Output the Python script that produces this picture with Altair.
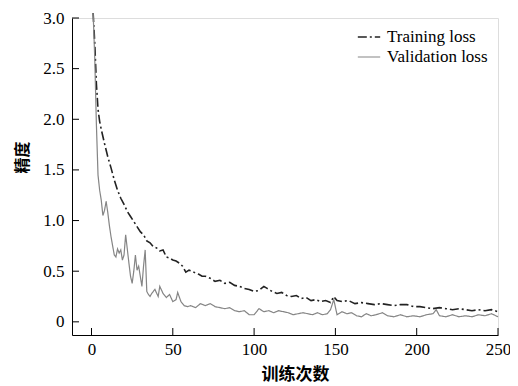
import altair as alt
import pandas as pd

# ---- data ----
train_epoch = [1, 2, 3, 4, 5, 6, 8, 10, 12, 14, 16, 18, 20, 22, 24, 26, 28, 30, 32, 34,
               36, 38, 40, 42, 44, 46, 48, 50, 52, 54, 56, 58, 60, 62, 64, 66, 68, 70,
               73, 76, 79, 82, 85, 88, 91, 94, 97, 100, 103, 106, 108, 111, 114, 117,
               120, 123, 126, 129, 132, 135, 138, 141, 144, 147, 149, 151, 154, 158,
               162, 166, 170, 174, 178, 182, 186, 190, 194, 198, 202, 206, 210, 214,
               218, 222, 226, 230, 234, 238, 242, 246, 250]
train_loss = [3.05, 2.75, 2.35, 2.10, 1.98, 1.90, 1.76, 1.63, 1.52, 1.40, 1.30, 1.22,
              1.16, 1.09, 1.04, 0.99, 0.94, 0.89, 0.86, 0.80, 0.78, 0.74, 0.73, 0.70,
              0.71, 0.64, 0.63, 0.61, 0.60, 0.58, 0.55, 0.49, 0.51, 0.50, 0.48, 0.47,
              0.45, 0.45, 0.43, 0.40, 0.41, 0.38, 0.39, 0.36, 0.35, 0.33, 0.32, 0.30,
              0.31, 0.35, 0.33, 0.30, 0.28, 0.29, 0.26, 0.25, 0.26, 0.23, 0.24, 0.21,
              0.22, 0.20, 0.21, 0.19, 0.25, 0.21, 0.20, 0.21, 0.18, 0.19, 0.18, 0.17,
              0.18, 0.17, 0.16, 0.17, 0.17, 0.15, 0.15, 0.14, 0.13, 0.14, 0.13, 0.12,
              0.13, 0.12, 0.11, 0.12, 0.11, 0.12, 0.10]

val_epoch = [1, 2, 3, 4, 5, 6, 7, 8, 9, 10, 11, 12, 13, 14, 15, 16, 17, 18, 19, 20,
             21, 22, 23, 24, 25, 26, 27, 28, 29, 30, 31, 32, 33, 34, 35, 36, 37, 39,
             41, 42, 44, 46, 48, 50, 52, 53, 55, 57, 59, 61, 64, 67, 70, 73, 76, 79,
             82, 85, 88, 91, 94, 97, 100, 103, 106, 109, 112, 115, 118, 121, 124, 127,
             130, 133, 136, 139, 142, 145, 147, 149, 151, 154, 157, 160, 163, 166,
             169, 172, 175, 179, 182, 186, 190, 194, 198, 202, 206, 210, 212, 214,
             218, 222, 226, 230, 234, 238, 242, 246, 250]
val_loss = [3.05, 2.60, 1.95, 1.45, 1.30, 1.20, 1.05, 1.10, 1.19, 1.08, 0.95, 0.84,
            0.75, 0.66, 0.64, 0.72, 0.68, 0.71, 0.61, 0.66, 0.86, 0.72, 0.58, 0.45,
            0.38, 0.50, 0.66, 0.51, 0.55, 0.45, 0.35, 0.55, 0.71, 0.30, 0.27, 0.25,
            0.28, 0.32, 0.25, 0.35, 0.28, 0.24, 0.27, 0.20, 0.22, 0.29, 0.20, 0.16,
            0.15, 0.16, 0.14, 0.18, 0.16, 0.18, 0.15, 0.14, 0.13, 0.14, 0.11, 0.10,
            0.11, 0.07, 0.07, 0.13, 0.10, 0.11, 0.09, 0.11, 0.10, 0.09, 0.07, 0.08,
            0.09, 0.08, 0.07, 0.09, 0.07, 0.08, 0.12, 0.22, 0.07, 0.10, 0.08, 0.09,
            0.06, 0.05, 0.08, 0.06, 0.07, 0.09, 0.06, 0.05, 0.07, 0.05, 0.06, 0.05,
            0.07, 0.08, 0.12, 0.06, 0.05, 0.07, 0.05, 0.06, 0.05, 0.07, 0.06, 0.08,
            0.05]

series_names = ["Training loss", "Validation loss"]
x_ticks = [0, 50, 100, 150, 200, 250]
y_ticks = [0, 0.5, 1.0, 1.5, 2.0, 2.5, 3.0]

df = pd.concat([
    pd.DataFrame({"epoch": train_epoch, "loss": train_loss, "series": series_names[0]}),
    pd.DataFrame({"epoch": val_epoch, "loss": val_loss, "series": series_names[1]}),
])

W, H = 426, 317
SERIF = "Liberation Serif"
CJK = "Noto Sans CJK SC"

xscale = alt.Scale(domain=[-12, 250], nice=False, zero=False)
yscale = alt.Scale(domain=[-0.13, 3.0], nice=False, zero=False)

legend_kw = dict(title=None, orient="none", legendX=285, legendY=7,
                 labelFont=SERIF, labelFontSize=17, labelColor="black",
                 symbolType="stroke", symbolSize=500, symbolStrokeWidth=1.5,
                 rowPadding=0, labelOffset=6)

lines = alt.Chart(df).mark_line(interpolate="linear").encode(
    x=alt.X("epoch:Q", scale=xscale,
            axis=alt.Axis(values=x_ticks, ticks=False, grid=False, domainColor="black",
                          domainWidth=1, labelFont=SERIF, labelFontSize=17,
                          labelColor="black", labelPadding=6, labelFlush=False,
                          title="训练次数",
                          titleFont=CJK, titleFontSize=17, titleFontWeight="bold",
                          titleColor="black", titlePadding=9, titleX=223)),
    y=alt.Y("loss:Q", scale=yscale,
            axis=alt.Axis(values=y_ticks, ticks=False, grid=False, domainColor="black",
                          domainWidth=1, labelFont=SERIF, labelFontSize=17,
                          labelColor="black", labelPadding=8, labelFlush=False,
                          labelExpr="datum.value == 0 ? '0' : format(datum.value, '.1f')",
                          title="精度", titleFont=CJK, titleFontSize=16,
                          titleFontWeight="bold", titleColor="black",
                          titleX=-50, titleY=139, titleAlign="center",
                          titleBaseline="middle", titleAngle=-90)),
    color=alt.Color("series:N",
                    scale=alt.Scale(domain=series_names, range=["#222222", "#858585"]),
                    legend=alt.Legend(**legend_kw)),
    strokeDash=alt.StrokeDash("series:N",
                              scale=alt.Scale(domain=series_names,
                                              range=[[9, 3, 2, 3], [1, 0]]),
                              legend=alt.Legend(**legend_kw)),
    strokeWidth=alt.StrokeWidth("series:N",
                                scale=alt.Scale(domain=series_names, range=[1.6, 1.2]),
                                legend=None),
    order="epoch:Q",
)

xt = alt.Chart(pd.DataFrame({"t": x_ticks})).mark_rule(color="black", strokeWidth=1).encode(
    x=alt.X("t:Q", scale=xscale), y=alt.value(H), y2=alt.value(H - 7))
yt = alt.Chart(pd.DataFrame({"t": y_ticks})).mark_rule(color="black", strokeWidth=1).encode(
    y=alt.Y("t:Q", scale=yscale), x=alt.value(0), x2=alt.value(7))

chart = alt.layer(lines, xt, yt).properties(
    width=W, height=H,
    autosize=alt.AutoSizeParams(type="none"),
    padding={"left": 64, "top": 10, "right": 12, "bottom": 51},
).configure_view(stroke=None).configure(background="white").configure_axis(
    labelFont=SERIF
)

chart.save("out.html", embed_options={"renderer": "svg", "actions": False})
